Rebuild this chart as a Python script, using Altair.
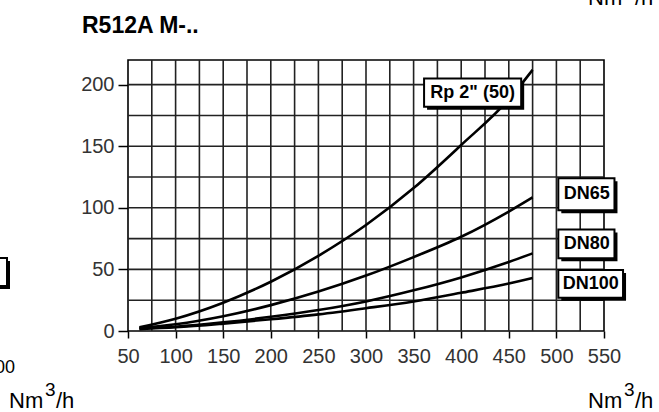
import altair as alt
import pandas as pd

# ---- data ----
flow = [62, 100, 150, 200, 250, 300, 350, 400, 450, 475]
rp50 = [3, 10, 23, 40, 61, 86, 116, 151, 188, 212]
dn65 = [2.5, 5.5, 12, 21, 32, 45, 60, 76.5, 97, 108.5]
dn80 = [2, 3.5, 7, 11.5, 17, 24, 33, 43.5, 56, 63]
dn100 = [1.5, 3, 6, 9.5, 13.5, 18.5, 24, 31, 38.5, 43]

series_names = ['Rp 2" (50)', "DN65", "DN80", "DN100"]
series_vals = [rp50, dn65, dn80, dn100]

# label boxes (data units)
lab_text = ['Rp 2" (50)', "DN65", "DN80", "DN100"]
lab_x = [412, 532, 532, 536]
lab_y = [193.5, 111, 70.5, 38]
box_x1 = [361, 502, 502, 502]
box_x2 = [463, 561, 561, 570]
box_y1 = [182, 98, 59, 27]
box_y2 = [205, 124, 82.5, 49.5]

x_ticks = list(range(50, 551, 50))
y_ticks = list(range(0, 201, 50))
x_grid = list(range(75, 550, 25))
y_grid = list(range(25, 220, 25))

title_text = "R512A M-.."

# ---- tables ----
rows = []
for name, vals in zip(series_names, series_vals):
    for q, p in zip(flow, vals):
        rows.append({"series": name, "flow": q, "dp": p})
curves = pd.DataFrame(rows)
labels = pd.DataFrame({"text": lab_text, "x": lab_x, "y": lab_y,
                       "x1": box_x1, "x2": box_x2, "y1": box_y1, "y2": box_y2})
gx = pd.DataFrame({"v": x_grid})
gy = pd.DataFrame({"v": y_grid})

FONT = "Liberation Sans"
xs = alt.Scale(domain=[50, 550], nice=False, zero=False)
ys = alt.Scale(domain=[0, 220], nice=False)

xaxis = alt.Axis(values=x_ticks, grid=False, domain=False, tickSize=7, tickColor="black",
                 tickWidth=1.5, labelPadding=8, labelFontSize=20, labelColor="#333",
                 labelFont=FONT, title=None, labelFlush=False)
yaxis = alt.Axis(values=y_ticks, grid=False, domain=False, tickSize=10, tickColor="black",
                 tickWidth=1.5, labelPadding=4, labelFontSize=20, labelColor="#333",
                 labelFont=FONT, title=None)

vgrid = alt.Chart(gx).mark_rule(color="#222", strokeWidth=1.6).encode(
    x=alt.X("v:Q", scale=xs, axis=xaxis))
hgrid = alt.Chart(gy).mark_rule(color="#222", strokeWidth=1.6).encode(
    y=alt.Y("v:Q", scale=ys, axis=yaxis))

lines = alt.Chart(curves).mark_line(color="black", strokeWidth=2.6, interpolate="monotone").encode(
    x=alt.X("flow:Q", scale=xs),
    y=alt.Y("dp:Q", scale=ys),
    detail="series:N")

shadow = alt.Chart(labels).mark_rect(color="black", xOffset=3, x2Offset=3, yOffset=3, y2Offset=3).encode(
    x="x1:Q", x2="x2:Q", y="y1:Q", y2="y2:Q")
box = alt.Chart(labels).mark_rect(fill="white", stroke="black", strokeWidth=2).encode(
    x="x1:Q", x2="x2:Q", y="y1:Q", y2="y2:Q")
btext = alt.Chart(labels).mark_text(font=FONT, fontSize=18, fontWeight="bold", color="black",
                                    align="center", baseline="middle").encode(
    x="x:Q", y="y:Q", text="text:N")

def txt(s, x, y, size, weight="normal", align="left"):
    return alt.Chart(pd.DataFrame({"t": [s]})).mark_text(
        font=FONT, fontSize=size, fontWeight=weight, color="black", align=align,
        baseline="alphabetic").encode(x=alt.value(x), y=alt.value(y), text="t:N")

deco = [
    txt(title_text, -46, -27, 23, "bold"),
    txt("Nm", -119, 348, 22), txt("3", -83, 336, 19), txt("/h", -72, 348, 22),
    txt("Nm", 460, 348, 22), txt("3", 496, 336, 19), txt("/h", 507, 348, 22),
    txt("Nm", 460, -55, 22), txt("3", 496, -67, 19), txt("/h", 507, -55, 22),
    txt("500", -113, 313, 18, align="right"),
]
frag_shadow = alt.Chart(pd.DataFrame({"a": [0]})).mark_rect(color="black").encode(
    x=alt.value(-165), x2=alt.value(-118), y=alt.value(201), y2=alt.value(229))
frag_box = alt.Chart(pd.DataFrame({"a": [0]})).mark_rect(fill="white", stroke="black", strokeWidth=2).encode(
    x=alt.value(-168), x2=alt.value(-121), y=alt.value(198), y2=alt.value(226))

chart = alt.layer(vgrid, hgrid, lines, shadow, box, btext, frag_shadow, frag_box, *deco).properties(
    width=476, height=271,
    autosize=alt.AutoSizeParams(type="none"),
    padding={"left": 128, "top": 60, "right": 55, "bottom": 81},
    background="white",
).configure_view(stroke="black", strokeWidth=1.6)

chart.save("out.html", embed_options={"renderer": "svg", "actions": False})
